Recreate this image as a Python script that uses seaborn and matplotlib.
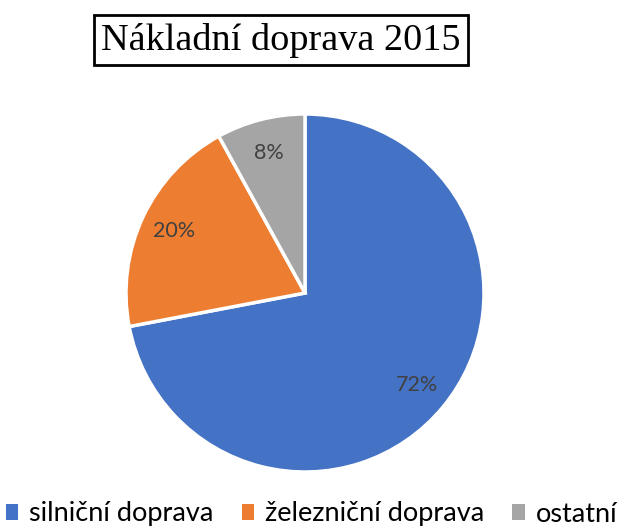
import matplotlib
matplotlib.use("Agg")
import matplotlib.pyplot as plt
import seaborn as sns

categories = ["silniční doprava", "železniční doprava", "ostatní"]
values = [72, 20, 8]
colors = ["#4472C4", "#ED7D31", "#A5A5A5"]
title = "Nákladní doprava 2015"

sns.set_theme(style="white")
plt.rcParams['font.family'] = ['Lato', 'DejaVu Sans']

W, H = 623, 529
fig = plt.figure(figsize=(W / 100, H / 100), dpi=100)
cx, cy, r = 305, 293, 179
size = 2 * r
ax = fig.add_axes([(cx - r) / W, (H - cy - r) / H, size / W, size / H])

wedges, texts, autotexts = ax.pie(
    values, colors=colors, startangle=90, counterclock=False,
    autopct=lambda p: f"{p:.0f}%", pctdistance=0.81,
    wedgeprops=dict(edgecolor="white", linewidth=2.5),
    textprops=dict(color="#404040", fontsize=15.5), radius=1.0)
ax.set_xlim(-1, 1)
ax.set_ylim(-1, 1)
ax.set_aspect("equal")
ax.axis("off")

fig.text(281 / W, 1 - 40 / H, title, ha="center", va="center",
         fontsize=27.5, family="Liberation Serif", color="black",
         bbox=dict(boxstyle="square,pad=0.2", facecolor="white", edgecolor="black", linewidth=2))

leg = fig.legend(wedges, categories, loc="center", bbox_to_anchor=(0.5, 1 - 514 / H),
                 ncol=3, frameon=False, fontsize=19.5, handlelength=0.45, handleheight=0.55,
                 handletextpad=0.4, columnspacing=1.05, borderpad=0.1)
for t in leg.get_texts():
    t.set_color("#000000")
for p in leg.get_patches():
    p.set_linewidth(0)

fig.savefig("out.png", dpi=100)
